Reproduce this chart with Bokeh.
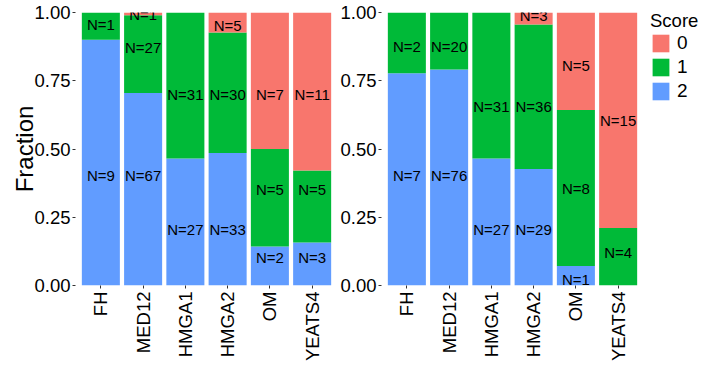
import math
from bokeh.plotting import figure
from bokeh.models import (ColumnDataSource, FixedTicker, NumeralTickFormatter, Legend,
                          LegendItem, Range1d, FactorRange)
from bokeh.layouts import row
from bokeh.embed import file_html
from bokeh.resources import INLINE
from bokeh.core.properties import value

# ---------------- data ----------------
genes = ["FH", "MED12", "HMGA1", "HMGA2", "OM", "YEATS4"]
score_labels = ["0", "1", "2"]
score_colors = ["#F8766D", "#00BA38", "#619CFF"]
y_ticks = [0.0, 0.25, 0.5, 0.75, 1.0]

# counts per gene and score, left panel
left_score0 = [0, 1, 0, 5, 7, 11]
left_score1 = [1, 27, 31, 30, 5, 5]
left_score2 = [9, 67, 27, 33, 2, 3]
# counts per gene and score, right panel
right_score0 = [0, 0, 0, 3, 5, 15]
right_score1 = [2, 20, 31, 36, 8, 4]
right_score2 = [7, 76, 27, 29, 1, 0]

# heights (in fraction units) of the N= labels
left_label_y0 = [None, 0.993, None, 0.952, 0.70, 0.70]
left_label_y1 = [0.956, 0.872, 0.70, 0.70, 0.352, 0.352]
left_label_y2 = [0.403, 0.403, 0.205, 0.205, 0.103, 0.103]
right_label_y0 = [None, None, None, 0.989, 0.806, 0.604]
right_label_y1 = [0.875, 0.875, 0.656, 0.656, 0.355, 0.121]
right_label_y2 = [0.403, 0.403, 0.205, 0.205, 0.022, None]

FONT = "Liberation Sans"


def make_panel(s0, s1, s2, ly0, ly1, ly2, border_left, border_right, y_title, with_legend):
    totals = [a + b + c for a, b, c in zip(s0, s1, s2)]
    f2 = [c / t for c, t in zip(s2, totals)]
    f1 = [b / t for b, t in zip(s1, totals)]
    top2 = f2
    top1 = [a + b for a, b in zip(f2, f1)]
    top0 = [1.0] * len(genes)

    src = ColumnDataSource(dict(x=genes, b2=[0.0] * len(genes), t2=top2,
                                b1=top2, t1=top1, b0=top1, t0=top0))

    p = figure(x_range=FactorRange(factors=genes, range_padding=0.1,
                                   range_padding_units="absolute"),
               y_range=Range1d(0, 1),
               frame_width=262, frame_height=273,
               min_border_left=border_left, min_border_right=border_right,
               min_border_top=12, min_border_bottom=73,
               output_backend="svg", toolbar_location=None)
    p.background_fill_color = "white"
    p.border_fill_color = "white"
    p.outline_line_color = None
    p.xgrid.grid_line_color = None
    p.ygrid.grid_line_color = None

    r2 = p.vbar(x="x", bottom="b2", top="t2", width=0.9, source=src,
                fill_color=score_colors[2], line_color=None)
    r1 = p.vbar(x="x", bottom="b1", top="t1", width=0.9, source=src,
                fill_color=score_colors[1], line_color=None)
    r0 = p.vbar(x="x", bottom="b0", top="t0", width=0.9, source=src,
                fill_color=score_colors[0], line_color=None)

    lx, ly, lt = [], [], []
    for counts, ys in ((s2, ly2), (s1, ly1), (s0, ly0)):
        for g, c, yy in zip(genes, counts, ys):
            if c > 0 and yy is not None:
                lx.append(g)
                ly.append(yy)
                lt.append("N=%d" % c)
    lsrc = ColumnDataSource(dict(x=lx, y=ly, t=lt))
    p.text(x="x", y="y", text="t", source=lsrc, text_align="center",
           text_baseline="middle", text_font=value(FONT),
           text_font_size="15px", text_color="black")

    for ax in (p.xaxis[0], p.yaxis[0]):
        ax.axis_line_color = None
        ax.major_tick_line_color = "#333333"
        ax.major_tick_in = 0
        ax.major_tick_out = 3
        ax.minor_tick_line_color = None
        ax.major_label_text_font = FONT
        ax.major_label_text_color = "black"
        ax.major_label_text_font_size = "18.5px"

    p.yaxis[0].ticker = FixedTicker(ticks=y_ticks)
    p.yaxis[0].formatter = NumeralTickFormatter(format="0.00")
    p.yaxis[0].major_label_standoff = 2
    p.xaxis[0].major_label_orientation = math.pi / 2
    p.xaxis[0].major_label_standoff = 3

    if y_title:
        p.yaxis[0].axis_label = y_title
        p.yaxis[0].axis_label_text_font = FONT
        p.yaxis[0].axis_label_text_font_style = "normal"
        p.yaxis[0].axis_label_text_font_size = "24px"
        p.yaxis[0].axis_label_text_color = "black"
        p.yaxis[0].axis_label_standoff = -7

    if with_legend:
        legend = Legend(items=[LegendItem(label=score_labels[0], renderers=[r0]),
                               LegendItem(label=score_labels[1], renderers=[r1]),
                               LegendItem(label=score_labels[2], renderers=[r2])],
                        location=(7, 183), orientation="vertical")
        legend.title = "Score"
        legend.title_text_font = FONT
        legend.title_text_font_size = "18.5px"
        legend.title_text_font_style = "normal"
        legend.title_text_color = "black"
        legend.title_standoff = -4
        legend.label_text_font = FONT
        legend.label_text_font_size = "19px"
        legend.label_text_color = "black"
        legend.label_standoff = 6
        legend.label_height = 22
        legend.glyph_width = 21
        legend.glyph_height = 22
        legend.spacing = 2
        legend.padding = 0
        legend.margin = 0
        legend.border_line_color = None
        legend.background_fill_alpha = 0
        p.add_layout(legend, "right")
    return p


p_left = make_panel(left_score0, left_score1, left_score2,
                    left_label_y0, left_label_y1, left_label_y2,
                    75, 0, "Fraction", False)
p_right = make_panel(right_score0, right_score1, right_score2,
                     right_label_y0, right_label_y1, right_label_y2,
                     43, 0, None, True)

layout = row(p_left, p_right, spacing=0)

open("out.html", "w").write(file_html(layout, INLINE))
